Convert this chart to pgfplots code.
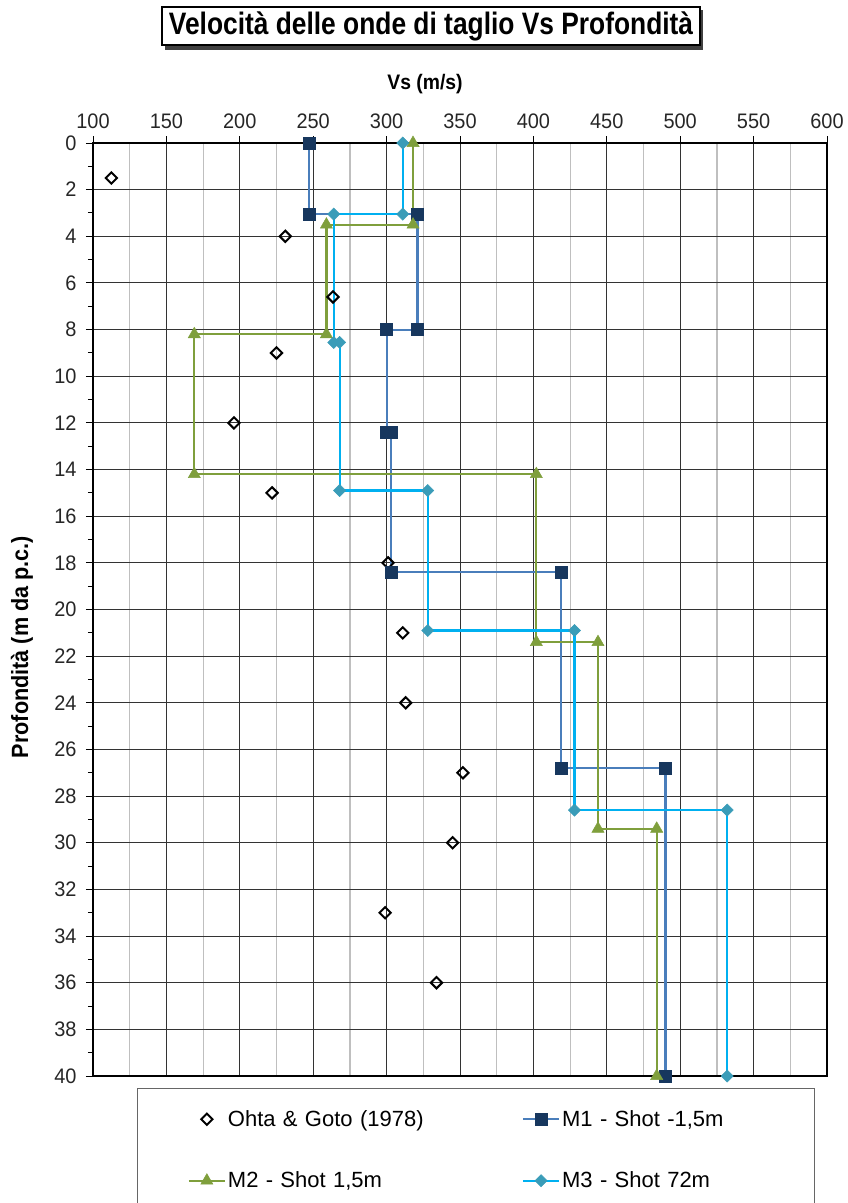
\documentclass[border=0pt]{standalone}
\usepackage{pgfplots}
\pgfplotsset{compat=1.18}
\usepackage{fontspec}
\setmainfont{Liberation Sans}
\newfontfamily\titlefam[FakeStretch=0.85]{Liberation Sans}
\newfontfamily\labfam[FakeStretch=0.92]{Liberation Sans}
\newfontfamily\tickfam[FakeStretch=0.95]{Liberation Sans}
\definecolor{mOneLine}{HTML}{4A7EBB}
\definecolor{mOneMark}{HTML}{17375E}
\definecolor{mTwo}{HTML}{7F9F3C}
\definecolor{mThreeLine}{HTML}{00B0F0}
\definecolor{mThreeMark}{HTML}{3A9CB8}
\begin{document}
\begin{tikzpicture}[x=1pt,y=1pt]
\useasboundingbox (0,0) rectangle (848,1203);
\begin{axis}[
  at={(93pt,127pt)}, anchor=south west,
  width=734pt, height=933pt, scale only axis,
  xmin=100, xmax=600, ymin=0, ymax=40, y dir=reverse,
  xtick={100,150,...,600}, minor xtick={125,175,...,575},
  ytick={0,2,...,40}, minor ytick={1,3,...,39},
  xticklabel pos=upper,
  xtick pos=right, ytick pos=left,
  xmajorgrids, xminorgrids, ymajorgrids,
  major grid style={black!80, line width=1pt},
  minor grid style={black!25, line width=1.2pt},
  axis line style={black, line width=1.5pt},
  tick align=outside,
  major tick length=7pt, minor tick length=5pt,
  every tick/.style={black, line width=1pt},
  minor x tick style={draw=none},
  tick label style={font=\tickfam\fontsize{21}{24}\selectfont, text=black!85},
  xticklabel style={yshift=4pt},
  yticklabel style={xshift=-6pt},
  /pgf/number format/assume math mode=true,
  legend columns=2,
  legend cell align=left,
  legend style={at={(axis description cs:0.0603,-0.0129)}, anchor=north west,
    draw=black!60, line width=1pt, font=\fontsize{22}{26}\selectfont,
    inner xsep=50pt, inner ysep=20pt, row sep=40pt,
    /tikz/every even column/.append style={column sep=92pt, text width=200pt}},
  legend image code/.code={\draw[mark repeat=2,mark phase=2,#1] plot coordinates {(0pt,0pt) (18pt,0pt) (36pt,0pt)};},
]
\addplot[only marks, mark=square, mark size=4pt, mark options={rotate=45, draw=black, fill=white, line width=2pt}] coordinates {
(112.5,1.5) (231,4) (263.5,6.6) (225,9) (196,12) (222,15) (301,18) (311,21) (313,24) (352,27) (345,30) (299,33) (334,36)
};
\addlegendentry{Ohta \& Goto (1978)}
\addplot[mOneLine, line width=2.2pt, mark=square*, mark size=6pt, mark options={draw=mOneMark, fill=mOneMark, line width=0.5pt}] coordinates {
(247,0) (247,3.05) (321,3.05) (321,8) (300,8) (300,12.4) (303,12.4) (303,18.4) (419,18.4) (419,26.8) (490,26.8) (490,40)
};
\addlegendentry{M1 - Shot -1,5m}
\addplot[mTwo, line width=2.2pt, mark=triangle*, mark size=7pt, mark options={draw=mTwo, fill=mTwo, line width=0.5pt}] coordinates {
(318,0) (318,3.5) (259,3.5) (259,8.2) (169,8.2) (169,14.2) (402,14.2) (402,21.4) (444,21.4) (444,29.4) (484,29.4) (484,40)
};
\addlegendentry{M2 - Shot 1,5m}
\addplot[mThreeLine, line width=2.2pt, mark=square*, mark size=4.3pt, mark options={rotate=45, draw=mThreeMark, fill=mThreeMark, line width=0.5pt}] coordinates {
(311,0) (311,3.05) (264,3.05) (264,8.55) (268,8.55) (268,14.9) (328,14.9) (328,20.9) (428,20.9) (428,28.6) (532,28.6) (532,40)
};
\addlegendentry{M3 - Shot 72m}
\end{axis}
\node[font=\labfam\bfseries\fontsize{21}{24}\selectfont] at (425,1119) {Vs (m/s)};
\node[rotate=90, font=\labfam\bfseries\fontsize{23.5}{27}\selectfont] at (22,556) {Profondità (m da p.c.)};
\fill[black!75] (165,1153) rectangle (703,1193);
\node[draw=black, fill=white, line width=1.2pt, minimum width=538pt, minimum height=38pt, inner sep=0pt, font=\titlefam\bfseries\fontsize{31}{35}\selectfont] at (431,1177) {Velocità delle onde di taglio Vs Profondità};
\end{tikzpicture}
\end{document}
